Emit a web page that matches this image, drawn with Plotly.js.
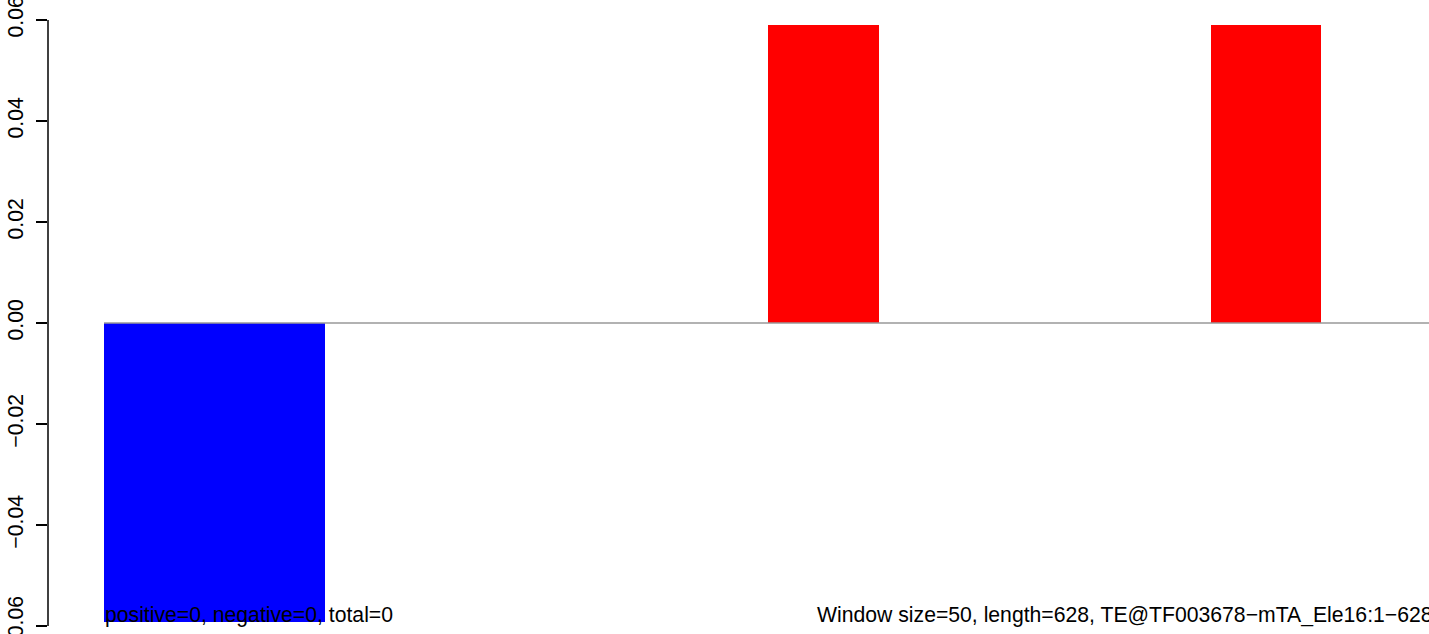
<!DOCTYPE html>
<html>
<head>
<meta charset="utf-8">
<script src="https://cdn.plot.ly/plotly-3.0.1.min.js"></script>
<style>html,body{margin:0;padding:0;background:#fff;}#chart{width:1429px;height:634px;}</style>
</head>
<body>
<div id="chart"></div>
<script>
// Window start positions (bp), window size 50, sequence length 628
const windowStarts = [0, 50, 100, 150, 200, 250, 300, 350, 400, 450, 500, 550, 600];
const windowValues = [-0.0593, -0.0593, 0, 0, 0, 0, 0.059, 0, 0, 0, 0.059, 0, 0];
const windowSize = 50;
const seqLength = 628;
const yTicks = [-0.06, -0.04, -0.02, 0.00, 0.02, 0.04, 0.06];
const leftNote = "positive=0, negative=0, total=0";
const rightNote = "Window size=50, length=628, TE@TF003678\u2212mTA_Ele16:1\u2212628";

const centers = windowStarts.map(s => s + windowSize / 2);
const colors = windowValues.map(v => v < 0 ? "#0000FF" : "#FF0000");

const font = {family: "Liberation Sans, Arial, sans-serif", size: 21.2, color: "#000"};

const trace = {
  type: "bar",
  x: centers,
  y: windowValues,
  width: windowSize,
  marker: {color: colors, line: {width: 0}},
  hoverinfo: "x+y"
};

const layout = {
  width: 1429, height: 634,
  margin: {l: 48, r: 0, t: 0, b: 0, pad: 0},
  paper_bgcolor: "#fff", plot_bgcolor: "#fff",
  showlegend: false,
  bargap: 0,
  font: font,
  xaxis: {range: [-25.3, 598.6], visible: false, showgrid: false, zeroline: false},
  yaxis: {
    range: [-0.06158, 0.06396],
    tickvals: yTicks, tickformat: ".2f",
    ticks: "outside", ticklen: 11, tickwidth: 1.5, tickcolor: "#000",
    tickangle: -90, tickfont: font,
    ticklabeloverflow: "allow",
    showgrid: false, zeroline: false, showline: false,
    ticklabelstandoff: 5
  },
  shapes: [
    {type: "line", xref: "paper", yref: "y", x0: 0, x1: 0, y0: yTicks[0], y1: yTicks[yTicks.length - 1],
     line: {color: "#000", width: 1.5}},
    {type: "line", xref: "x", yref: "y", x0: 0, x1: seqLength, y0: 0, y1: 0,
     line: {color: "#999999", width: 1.5}, layer: "above"}
  ],
  annotations: [
    {text: leftNote, xref: "x", yref: "y", x: windowStarts[0], y: -0.0578, xanchor: "left", yanchor: "middle",
     showarrow: false, font: font, borderpad: 0},
    {text: rightNote, xref: "paper", yref: "y", x: (816 - 48) / 1381, y: -0.0578, xanchor: "left", yanchor: "middle",
     showarrow: false, font: font, borderpad: 0}
  ]
};

Plotly.newPlot("chart", [trace], layout, {displayModeBar: false, staticPlot: true});
</script>
</body>
</html>
